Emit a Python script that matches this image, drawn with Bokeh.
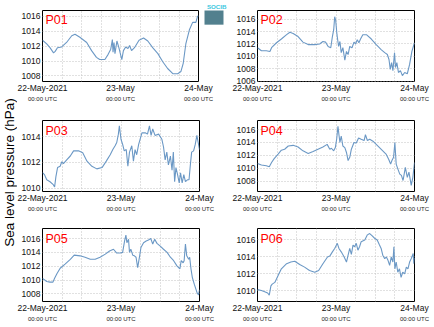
from bokeh.plotting import figure
from bokeh.layouts import row, column
from bokeh.models import Range1d, FixedTicker, LinearAxis, Label, Title, Grid
from bokeh.embed import file_html
from bokeh.resources import INLINE

# ---- data (hours since 22-May-2021 00:00 UTC, pressure in hPa) ----
t_p01 = [0, 1.3, 2.3, 3.4, 3.9, 4.6, 5.9, 7.4, 9.0, 10.0, 11.5, 13.6, 15.1, 16.6, 17.6, 19.2, 20.2, 21.0,
         21.5, 21.7, 22.0, 22.3, 22.9, 23.5, 24.4, 24.9, 25.6, 26.3, 26.8, 27.4, 28.3, 29.7, 31.1, 32.4,
         33.9, 35.5, 37.0, 38.5, 40.1, 41.6, 42.6, 43.3, 44.1, 45.2, 46.2, 47.2, 47.7, 48]
p01 = [1012.8, 1012.3, 1011.8, 1011.1, 1011.3, 1011.8, 1011.9, 1012.5, 1013.4, 1013.6, 1013.2, 1012.5, 1011.4,
       1010.5, 1010.2, 1010.2, 1010.9, 1011.6, 1012.9, 1011.2, 1012.5, 1011.0, 1012.7, 1011.8, 1010.2, 1011.4,
       1011.9, 1011.7, 1012.1, 1011.4, 1011.8, 1012.8, 1013.1, 1012.7, 1011.8, 1011.0, 1009.9, 1009.0, 1008.3,
       1008.3, 1008.6, 1009.7, 1012.3, 1014.2, 1015.2, 1015.2, 1016.0, 1016.1]

t_p02 = [0, 1.2, 2.7, 3.8, 4.3, 5.8, 7.3, 8.9, 9.9, 10.9, 12.4, 13.9, 15.5, 17.5, 19.0, 20.0, 20.8, 21.6, 22.4,
         22.9, 23.3, 23.6, 23.9, 24.3, 24.8, 25.2, 25.6, 26.1, 26.7, 27.2, 27.7, 28.2, 28.9, 29.5, 30.0, 30.5,
         31.0, 31.5, 32.2, 33.3, 34.8, 36.3, 37.8, 38.9, 39.7, 40.2, 40.6, 41.0, 41.4, 41.9, 42.2, 42.6, 43.1,
         43.7, 44.3, 45.0, 45.8, 46.5, 47.2, 48]
p02 = [1011.4, 1010.9, 1010.9, 1010.8, 1011.4, 1012.2, 1012.8, 1013.5, 1013.9, 1013.7, 1013.2, 1012.3, 1011.9,
       1011.9, 1012.0, 1012.4, 1012.3, 1011.6, 1011.4, 1013.2, 1014.3, 1016.4, 1015.8, 1013.5, 1011.6, 1012.4,
       1010.6, 1011.4, 1009.4, 1010.8, 1010.3, 1011.6, 1011.4, 1012.3, 1012.0, 1012.7, 1012.2, 1012.8, 1013.5,
       1013.5, 1012.8, 1011.9, 1011.1, 1010.6, 1010.3, 1009.5, 1007.9, 1009.0, 1007.7, 1010.6, 1008.2, 1009.0,
       1007.4, 1007.7, 1006.9, 1007.4, 1007.2, 1008.7, 1010.8, 1012.2]

t_p03 = [0, 0.6, 1.3, 2.3, 3.2, 3.7, 4.1, 4.6, 5.4, 5.9, 6.4, 7.4, 8.5, 9.5, 11.0, 12.3, 13.6, 15.1, 16.6, 18.2,
         19.5, 20.7, 21.5, 22.2, 22.7, 23.2, 23.5, 24.0, 24.5, 25.0, 25.6, 26.1, 26.6, 27.3, 27.8, 28.3, 28.8,
         29.4, 30.4, 31.4, 32.1, 32.7, 33.2, 33.7, 34.4, 35.5, 36.5, 37.0, 37.5, 38.0, 38.5, 39.1, 39.6, 40.0,
         40.4, 40.8, 41.3, 41.8, 42.2, 42.7, 43.2, 43.7, 44.3, 44.8, 45.2, 45.6, 46.2, 46.7, 47.2, 47.6, 48]
p03 = [1011.2, 1011.05, 1010.65, 1010.5, 1010.3, 1010.1, 1010.9, 1011.6, 1011.7, 1012.05, 1011.9, 1012.2, 1012.5,
       1012.9, 1012.9, 1012.75, 1012.1, 1011.7, 1011.5, 1011.6, 1012.1, 1012.6, 1013.0, 1013.3, 1013.55, 1014.2,
       1014.85, 1013.8, 1013.4, 1012.9, 1013.0, 1011.7, 1012.8, 1013.3, 1012.1, 1013.0, 1012.6, 1013.4, 1014.3,
       1014.3, 1014.2, 1014.85, 1014.1, 1014.6, 1014.1, 1014.2, 1013.8, 1013.2, 1012.2, 1012.8, 1011.8, 1012.5,
       1011.4, 1012.8, 1010.5, 1011.6, 1011.05, 1010.4, 1011.2, 1010.4, 1011.05, 1010.5, 1010.65, 1010.65, 1011.8,
       1012.8, 1012.9, 1013.4, 1014.1, 1013.55, 1013.0]

t_p04 = [0, 1.2, 2.7, 3.6, 4.3, 5.1, 6.3, 7.3, 8.3, 9.4, 10.9, 12.4, 13.9, 15.5, 17.0, 18.5, 20.0, 21.3, 22.1,
         22.6, 23.3, 23.8, 24.2, 24.6, 24.9, 25.2, 25.6, 26.1, 26.7, 27.2, 27.7, 28.2, 28.7, 29.5, 30.2, 30.9,
         31.7, 32.6, 33.0, 33.6, 34.3, 35.3, 36.3, 37.3, 38.3, 39.3, 40.1, 40.7, 41.1, 41.6, 42.0, 42.4, 42.9,
         43.5, 44.0, 44.5, 45.2, 45.8, 46.3, 47.0, 47.5, 48]
p04 = [1010.75, 1010.5, 1010.4, 1010.25, 1010.9, 1011.5, 1012.2, 1012.8, 1012.95, 1013.45, 1013.55, 1013.3,
       1012.7, 1012.3, 1012.6, 1012.95, 1013.3, 1013.7, 1012.95, 1013.1, 1012.7, 1013.2, 1014.5, 1016.5, 1015.2,
       1014.0, 1015.0, 1013.45, 1013.2, 1012.45, 1011.2, 1011.7, 1012.95, 1014.0, 1013.9, 1014.7, 1014.5, 1014.3,
       1015.2, 1014.3, 1014.5, 1014.2, 1013.7, 1013.2, 1012.7, 1012.2, 1011.4, 1010.65, 1011.2, 1011.7, 1014.0,
       1010.65, 1009.9, 1009.1, 1008.9, 1008.1, 1010.15, 1008.6, 1009.4, 1007.35, 1008.6, 1010.9]

t_p05 = [0, 1.3, 2.3, 3.2, 3.7, 4.4, 5.4, 6.9, 8.5, 9.7, 11.5, 13.0, 14.6, 16.1, 17.6, 19.2, 20.5, 21.7, 22.7,
         23.8, 24.5, 25.1, 25.5, 25.8, 26.3, 26.6, 27.0, 27.6, 28.1, 28.6, 29.1, 29.7, 30.1, 30.9, 31.7, 32.4,
         33.1, 33.7, 34.3, 35.0, 36.0, 37.0, 38.1, 39.1, 40.1, 41.1, 42.0, 42.4, 43.0, 43.3, 43.7, 44.1, 44.7,
         45.0, 45.4, 45.8, 46.4, 47.2, 47.7, 48]
p05 = [1010.25, 1009.8, 1009.7, 1009.7, 1010.25, 1010.9, 1011.7, 1012.3, 1013.0, 1013.6, 1013.5, 1013.3, 1013.0,
       1013.0, 1013.3, 1013.75, 1014.2, 1014.45, 1013.9, 1013.9, 1014.0, 1015.65, 1016.5, 1015.4, 1015.9, 1014.0,
       1014.45, 1013.6, 1013.5, 1013.3, 1011.8, 1013.5, 1014.7, 1015.4, 1015.65, 1015.8, 1016.0, 1015.2, 1015.9,
       1015.3, 1014.9, 1014.45, 1014.0, 1013.3, 1012.8, 1012.05, 1011.6, 1012.8, 1012.5, 1012.8, 1015.2, 1013.5,
       1013.0, 1013.3, 1011.6, 1010.4, 1009.4, 1008.25, 1007.85, 1008.6]

t_p06 = [0, 1.2, 2.2, 3.1, 3.6, 4.1, 4.5, 5.3, 6.3, 7.3, 8.9, 10.2, 11.4, 12.9, 14.4, 15.9, 17.5, 18.7, 20.0,
         21.4, 22.1, 22.9, 23.6, 24.4, 24.9, 25.6, 26.5, 27.2, 27.7, 28.2, 28.7, 29.2, 29.7, 30.2, 30.7, 31.2,
         31.7, 32.8, 33.6, 34.3, 35.0, 35.8, 36.6, 37.3, 37.8, 38.3, 38.9, 39.4, 39.9, 40.4, 40.9, 41.4, 41.7,
         42.0, 42.4, 42.9, 43.4, 43.9, 44.4, 45.0, 45.5, 46.0, 46.5, 47.0, 47.6, 47.8, 48]
p06 = [1010.15, 1010.05, 1009.9, 1009.75, 1009.5, 1010.6, 1010.8, 1011.0, 1011.8, 1012.6, 1013.2, 1013.4, 1013.5,
       1013.1, 1012.8, 1012.4, 1012.2, 1012.4, 1013.2, 1014.0, 1014.1, 1014.6, 1015.0, 1015.6, 1015.0, 1014.6,
       1014.0, 1013.4, 1014.2, 1015.0, 1014.3, 1015.4, 1015.2, 1015.6, 1014.8, 1015.2, 1015.8, 1016.0, 1016.6,
       1016.75, 1016.5, 1016.2, 1016.0, 1015.4, 1015.0, 1014.2, 1013.8, 1014.0, 1013.6, 1013.0, 1014.0, 1013.4,
       1015.2, 1012.6, 1013.4, 1012.2, 1012.6, 1011.6, 1012.2, 1012.0, 1012.8, 1012.6, 1013.4, 1013.8, 1014.4,
       1013.2, 1013.9]

names = ["P01", "P02", "P03", "P04", "P05", "P06"]
times = [t_p01, t_p02, t_p03, t_p04, t_p05, t_p06]
series = [p01, p02, p03, p04, p05, p06]
y_ranges = [(1007.25, 1016.8), (1005.95, 1017.4), (1009.74, 1015.26),
            (1006.4, 1017.4), (1006.9, 1017.45), (1008.75, 1017.35)]
y_ticks = [[1008, 1010, 1012, 1014, 1016], [1006, 1008, 1010, 1012, 1014, 1016], [1010, 1012, 1014],
           [1008, 1010, 1012, 1014, 1016], [1008, 1010, 1012, 1014, 1016], [1010, 1012, 1014, 1016]]
x_tick_hours = [0, 24, 48]
x_minor_hours = [6, 12, 18, 30, 36, 42]
x_tick_dates = ["22-May-2021", "23-May", "24-May"]
x_tick_times = ["00:00 UTC", "00:00 UTC", "00:00 UTC"]
y_title = "Sea level pressure (hPa)"
logo_text = "SOCIB"

FONT = "Liberation Sans"
LINE = "#6b98c5"
GRIDC = "#c2c2c2"

# layout geometry: (top, frame_h, bottom) per row, (left, right, width) per column
rows_geo = [(9, 72, 28), (11, 71, 27), (10, 73, 26)]
cols_geo = [(25, 32, 214), (26, 20, 203)]

NO_TICKS = dict(axis_line_color=None, major_tick_line_color=None, minor_tick_line_color=None,
                major_tick_in=0, major_tick_out=0, minor_tick_in=0, minor_tick_out=0)


def make_panel(i):
    r, c = divmod(i, 2)
    top, fh, bot = rows_geo[r]
    left, right, w = cols_geo[c]
    p = figure(width=w, height=top + fh + bot, x_range=Range1d(0, 48), y_range=Range1d(*y_ranges[i]),
               output_backend="svg", toolbar_location=None, x_axis_location=None, y_axis_location=None,
               min_border_left=left, min_border_right=right, min_border_top=top, min_border_bottom=bot)
    p.outline_line_color = "black"
    p.outline_line_width = 1
    p.center = [o for o in p.center if not isinstance(o, Grid)]
    xt = FixedTicker(ticks=x_tick_hours, minor_ticks=x_minor_hours)
    yt = FixedTicker(ticks=y_ticks[i], minor_ticks=[])
    p.add_layout(Grid(dimension=0, ticker=xt, grid_line_color=GRIDC, grid_line_dash="1 2",
                      minor_grid_line_color=GRIDC, minor_grid_line_dash="1 2"))
    p.add_layout(Grid(dimension=1, ticker=yt, grid_line_color=GRIDC, grid_line_dash="1 2"))

    ax = LinearAxis(ticker=xt, major_label_overrides=dict(zip(x_tick_hours, x_tick_dates)),
                    major_label_standoff=1, major_label_text_font=FONT, major_label_text_font_size="8.5px",
                    major_label_text_color="#111111", **NO_TICKS)
    ax2 = LinearAxis(ticker=xt, major_label_overrides=dict(zip(x_tick_hours, x_tick_times)),
                     major_label_standoff=0, major_label_text_font=FONT, major_label_text_font_size="6px",
                     major_label_text_color="#222222", **NO_TICKS)
    ay = LinearAxis(ticker=yt, major_label_standoff=2, major_label_text_font=FONT,
                    major_label_text_font_size="8.5px", major_label_text_color="#111111", **NO_TICKS)
    p.add_layout(ax, "below")
    p.add_layout(ax2, "below")
    p.add_layout(ay, "left")

    p.line(times[i], series[i], line_color=LINE, line_width=1.1)
    p.add_layout(Label(x=3, y=fh - 10.5, x_units="screen", y_units="screen", text=names[i],
                       text_color="#ff0000", text_font=FONT, text_font_size="12.5px",
                       text_baseline="alphabetic", text_align="left"))
    return p


panels = [make_panel(i) for i in range(6)]

# small logo to the right of the first panel (side-panel titles are not clipped to the frame)
p1 = panels[0]
p1.add_layout(Title(text=logo_text, align="right", offset=-28, standoff=1, text_font=FONT,
                    text_font_size="6.2px", text_font_style="bold", text_color="#3cc8e0"), "above")
p1.add_layout(Title(text="\u00a0\u00a0\u00a0", align="left", offset=0, standoff=12, text_font=FONT,
                    text_font_size="17px", text_color="#52808e", background_fill_color="#52808e",
                    background_fill_alpha=1.0), "right")

strip = figure(width=17, height=327, x_range=Range1d(0, 1), y_range=Range1d(0, 1), output_backend="svg",
               toolbar_location=None, x_axis_location=None, y_axis_location=None, min_border=0)
strip.outline_line_color = None
strip.center = [o for o in strip.center if not isinstance(o, Grid)]
strip.add_layout(Label(x=9, y=327 - 172, x_units="screen", y_units="screen", text=y_title, angle=90,
                       angle_units="deg", text_align="center", text_baseline="middle", text_font=FONT,
                       text_font_size="13.5px", text_color="#000000"))

grid = column(row(panels[0], panels[1]), row(panels[2], panels[3]), row(panels[4], panels[5]))
layout = row(strip, grid)

open("out.html", "w").write(file_html(layout, INLINE))
